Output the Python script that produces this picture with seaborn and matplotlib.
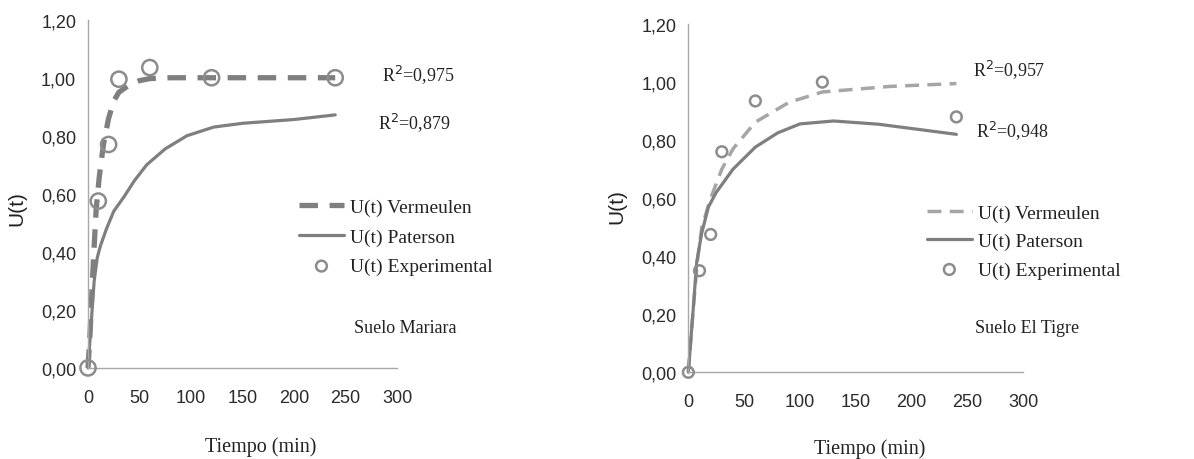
import numpy as np
import pandas as pd
import matplotlib
matplotlib.use('Agg')
import matplotlib.pyplot as plt
from matplotlib.ticker import FuncFormatter
import seaborn as sns

sns.set_style('white')
plt.rcParams['font.family'] = ['Liberation Sans', 'DejaVu Sans']

# Suelo Mariara
t_exp_m = [0, 10, 20, 30, 60, 120, 240]
u_exp_m = [0.0, 0.575, 0.77, 0.995, 1.035, 1.0, 1.0]
t_ver_m = [0, 2, 4, 6, 8, 11, 15, 20, 25, 30, 40, 50, 60, 80, 120, 180, 240]
u_ver_m = [0.0, 0.12, 0.28, 0.42, 0.55, 0.66, 0.77, 0.86, 0.92, 0.95, 0.975, 0.99, 0.997, 1.0, 1.0, 1.0, 1.0]
t_pat_m = [0, 3, 6, 9, 12, 18, 25, 35, 45, 57, 75, 96, 122, 150, 200, 240]
u_pat_m = [0.0, 0.15, 0.30, 0.38, 0.42, 0.48, 0.54, 0.59, 0.645, 0.70, 0.755, 0.80, 0.83, 0.843, 0.856, 0.872]

# Suelo El Tigre
t_exp_t = [0, 10, 20, 30, 60, 120, 240]
u_exp_t = [0.0, 0.35, 0.475, 0.76, 0.935, 1.0, 0.88]
t_ver_t = [0, 4, 8, 12, 20, 30, 40, 60, 90, 120, 180, 240]
u_ver_t = [0.0, 0.2, 0.38, 0.5, 0.6, 0.7, 0.77, 0.862, 0.93, 0.966, 0.985, 0.995]
t_pat_t = [0, 4, 7.5, 12, 18, 25, 40, 60, 80, 100, 130, 170, 210, 240]
u_pat_t = [0.0, 0.2, 0.38, 0.48, 0.57, 0.62, 0.70, 0.776, 0.825, 0.856, 0.866, 0.855, 0.835, 0.82]

labels = ['U(t) Vermeulen', 'U(t) Paterson', 'U(t) Experimental']

serif = ['Liberation Serif', 'DejaVu Serif']
comma_fmt = FuncFormatter(lambda v, p: f'{v:.2f}'.replace('.', ','))

fig = plt.figure(figsize=(11.94, 4.6), dpi=100)
ax1 = fig.add_axes([0.0737, 0.198, 0.2588, 0.757])
ax2 = fig.add_axes([0.5765, 0.1885, 0.2806, 0.757])


def draw(ax, t_ver, u_ver, t_pat, u_pat, t_exp, u_exp, ver_color, ver_lw, dash, ms,
         r2_ver, r2_pat, r2_pos, soil, soil_pos, leg_pos, leg_sp, xlab_pos, ylab_pos):
    sns.lineplot(x=t_ver, y=u_ver, ax=ax, color=ver_color, lw=ver_lw,
                 linestyle=(0, dash), sort=False, label=labels[0])
    sns.lineplot(x=t_pat, y=u_pat, ax=ax, color='#7f7f7f', lw=2.3,
                 sort=False, label=labels[1])
    sns.scatterplot(x=t_exp, y=u_exp, ax=ax, s=ms, facecolors='none',
                    edgecolor='#8c8c8c', linewidth=1.8, label=labels[2], zorder=5)
    ax.set_xlim(0, 300)
    ax.set_ylim(0, 1.2)
    ax.set_xticks(np.arange(0, 301, 50))
    ax.set_yticks(np.arange(0, 1.21, 0.2))
    ax.yaxis.set_major_formatter(comma_fmt)
    for s in ['top', 'right']:
        ax.spines[s].set_visible(False)
    for s in ['left', 'bottom']:
        ax.spines[s].set_color('#a8a8a8')
        ax.spines[s].set_linewidth(1.0)
    ax.tick_params(axis='both', which='major', direction='out', length=5,
                   width=1, color='#a8a8a8', labelsize=13, labelcolor='#2a2a2a')
    ax.tick_params(axis='x', pad=10)
    ax.set_ylabel('U(t)', fontsize=15, color='#222222')
    ax.yaxis.set_label_coords(*ylab_pos)
    ax.set_xlabel('Tiempo (min)', fontsize=14.5, family=serif, color='#222222')
    ax.xaxis.set_label_coords(*xlab_pos)
    ax.text(r2_pos[0], r2_pos[1], f'R$^2$={r2_ver}', transform=ax.transAxes,
            fontsize=13, family=serif, color='#222222', va='center')
    ax.text(r2_pos[2], r2_pos[3], f'R$^2$={r2_pat}', transform=ax.transAxes,
            fontsize=13, family=serif, color='#222222', va='center')
    ax.text(soil_pos[0], soil_pos[1], soil, transform=ax.transAxes,
            fontsize=13, family=serif, color='#222222', va='center')
    leg = ax.legend(loc='upper left', bbox_to_anchor=leg_pos, frameon=False,
                    prop={'family': serif, 'size': 14}, handlelength=2.3,
                    handletextpad=0.3, labelspacing=leg_sp, borderaxespad=0)
    leg.legend_handles[2].set_sizes([60])
    for txt in leg.get_texts():
        txt.set_color('#222222')
    for c in ax.collections:
        c.set_clip_on(False)
    for l in ax.lines:
        l.set_clip_on(False)


draw(ax1, t_ver_m, u_ver_m, t_pat_m, u_pat_m, t_exp_m, u_exp_m,
     '#7f7f7f', 3.8, (3.5, 2.2), 120, '0,975', '0,879', (0.95, 0.845, 0.94, 0.707),
     'Suelo Mariara', (0.86, 0.115), (0.658, 0.51), 0.62, (0.56, -0.195), (-0.2, 0.46))
draw(ax2, t_ver_t, u_ver_t, t_pat_t, u_pat_t, t_exp_t, u_exp_t,
     '#a6a6a6', 2.5, (4, 2.4), 60, '0,957', '0,948', (0.85, 0.871, 0.86, 0.696),
     'Suelo El Tigre', (0.855, 0.13), (0.689, 0.505), 0.55, (0.54, -0.19), (-0.185, 0.48))

fig.savefig('out.png', dpi=100, facecolor='white')
